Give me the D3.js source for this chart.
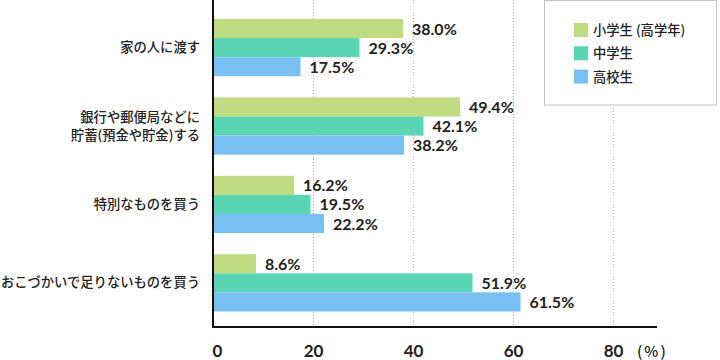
<!DOCTYPE html>
<html><head><meta charset="utf-8">
<script src="https://cdn.jsdelivr.net/npm/d3@7"></script>
<style>
html,body{margin:0;padding:0;background:#fff;}
svg{display:block;}
</style></head>
<body>
<svg id="chart" width="720" height="360"></svg>
<script>
const categories = [
  ["家の人に渡す"],
  ["銀行や郵便局などに", "貯蓄(預金や貯金)する"],
  ["特別なものを買う"],
  ["おこづかいで足りないものを買う"]
];
const seriesNames = ["小学生 (高学年)", "中学生", "高校生"];
const elementary = [38.0, 49.4, 16.2, 8.6];
const juniorHigh = [29.3, 42.1, 19.5, 51.9];
const highSchool = [17.5, 38.2, 22.2, 61.5];
const tickValues = [0, 20, 40, 60, 80];
const colors = ["#BFDC82", "#5AD5B4", "#78BFF2"];

const seriesValues = [elementary, juniorHigh, highSchool];
const svg = d3.select("#chart");
const jpFont = "'Noto Sans CJK JP', 'Noto Sans', sans-serif";
const numFont = "Lato, 'Noto Sans', sans-serif";

const x0 = 213, xEnd = 657, yTop = 0, yBottom = 327;
const x = d3.scaleLinear().domain([0, 88.8]).range([x0, xEnd]);
const y = d3.scaleBand().domain(d3.range(categories.length)).range([yTop, yBottom])
  .paddingInner(0.27).paddingOuter(0.22).align(0.55);
const ySub = d3.scaleBand().domain(d3.range(seriesNames.length)).range([0, y.bandwidth()]);

// gridlines
svg.append("g").selectAll("line").data(tickValues.filter(d => d > 0)).join("line")
  .attr("x1", d => x(d) + 0.5).attr("x2", d => x(d) + 0.5)
  .attr("y1", yTop).attr("y2", yBottom)
  .attr("stroke", "#b5b5b5").attr("stroke-width", 1).attr("stroke-dasharray", "1,2");

// legend box (covers gridline)
const lg = svg.append("g");
lg.append("rect").attr("x", 544.5).attr("y", 0.5).attr("width", 172).attr("height", 104.5)
  .attr("fill", "#fff").attr("stroke", "#c4c4c4").attr("stroke-width", 1);
seriesNames.forEach((n, i) => {
  const yy = 23 + i * 23.3;
  lg.append("rect").attr("x", 574).attr("y", yy).attr("width", 14).attr("height", 14).attr("fill", colors[i]);
  lg.append("text").attr("x", 593).attr("y", yy + 12).text(n)
    .attr("font-family", jpFont).attr("font-size", 13.3).attr("font-weight", 500).attr("fill", "#222");
});

// bars
const groups = svg.append("g").selectAll("g").data(categories).join("g")
  .attr("transform", (d, i) => `translate(0,${y(i)})`);
seriesValues.forEach((vals, s) => {
  groups.append("rect")
    .attr("x", x0).attr("y", ySub(s))
    .attr("width", (d, i) => x(vals[i]) - x0)
    .attr("height", ySub.bandwidth())
    .attr("fill", colors[s]);
  groups.append("text")
    .attr("x", (d, i) => x(vals[i]) + 9)
    .attr("y", ySub(s) + ySub.bandwidth() / 2 + 6)
    .text((d, i) => vals[i].toFixed(1) + "%")
    .attr("font-family", numFont).attr("font-weight", "bold").attr("font-size", 16)
    .attr("fill", "#222");
});

// category labels
groups.each(function(lines, i) {
  const g = d3.select(this);
  const c = y.bandwidth() / 2;
  const lh = 18;
  lines.forEach((t, k) => {
    g.append("text").attr("x", 200).attr("y", c + (k - (lines.length - 1) / 2) * lh + 4.5)
      .attr("text-anchor", "end").text(t)
      .attr("font-family", jpFont).attr("font-size", 13.3).attr("font-weight", 500).attr("fill", "#222");
  });
});

// axes
const xAxis = d3.axisBottom(x).tickValues(tickValues).tickSize(0).tickPadding(0);
const ax = svg.append("g").attr("transform", `translate(0,${yBottom})`).call(xAxis);
ax.select(".domain").remove();
ax.selectAll("text").attr("y", 30).attr("dy", 0)
  .attr("font-family", numFont).attr("font-weight", "bold").attr("font-size", 17).attr("fill", "#222");
ax.selectAll(".tick").filter(d => d === 0).select("text").attr("text-anchor", "start").attr("x", -1);
svg.append("text").attr("x", 637).attr("y", 357).text("(%)")
  .attr("font-family", jpFont).attr("font-size", 15).attr("font-weight", 500).attr("fill", "#222")
  .attr("letter-spacing", 2);

svg.append("line").attr("x1", x0).attr("x2", x0).attr("y1", yTop).attr("y2", yBottom + 1)
  .attr("stroke", "#111").attr("stroke-width", 2);
svg.append("line").attr("x1", x0 - 1).attr("x2", xEnd).attr("y1", yBottom).attr("y2", yBottom)
  .attr("stroke", "#111").attr("stroke-width", 2);
</script>
</body></html>
